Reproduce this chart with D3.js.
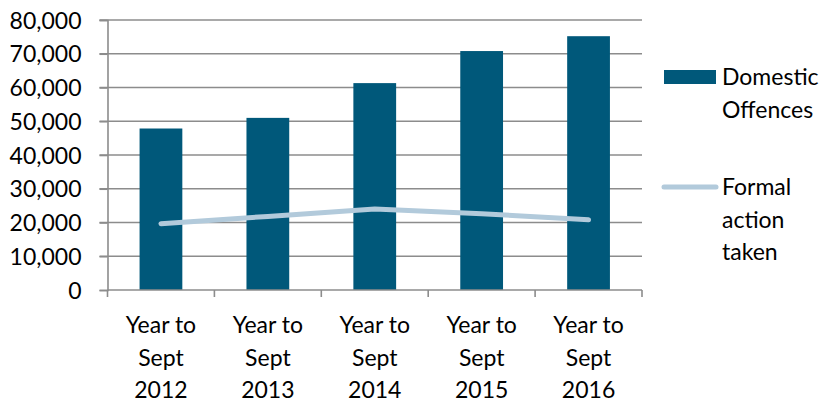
<!DOCTYPE html>
<html>
<head>
<meta charset="utf-8">
<script src="https://cdn.jsdelivr.net/npm/d3@7"></script>
<style>
  body { margin: 0; background: #fff; }
  svg text { font-family: Lato, "Noto Sans", sans-serif; fill: #000; }
</style>
</head>
<body>
<svg id="chart" width="833" height="402"></svg>
<script>
const categories = [
  ['Year to', 'Sept', '2012'],
  ['Year to', 'Sept', '2013'],
  ['Year to', 'Sept', '2014'],
  ['Year to', 'Sept', '2015'],
  ['Year to', 'Sept', '2016']
];
const domesticOffences = [47850, 51000, 61300, 70800, 75200];
const formalAction = [19650, 21800, 24000, 22600, 20800];
const yTicks = [0, 10000, 20000, 30000, 40000, 50000, 60000, 70000, 80000];
const legendLabels = [['Domestic', 'Offences'], ['Formal', 'action', 'taken']];

const svg = d3.select('#chart');
const plotLeft = 107.5, plotRight = 642, plotTop = 20, plotBottom = 290;
const barColor = '#00587a';
const lineColor = '#b2cadb';
const gridColor = '#8c8c8c';
const fontSize = 23;

const x = d3.scaleBand()
  .domain(d3.range(categories.length))
  .range([plotLeft, plotRight])
  .paddingInner(0.6)
  .paddingOuter(0.3);

const xb = d3.scaleBand()
  .domain(d3.range(categories.length))
  .range([plotLeft, plotRight]);

const y = d3.scaleLinear().domain([0, 80000]).range([plotBottom, plotTop]);

// gridlines
svg.append('g')
  .selectAll('line')
  .data(yTicks.slice(1))
  .join('line')
  .attr('x1', plotLeft - 8)
  .attr('x2', plotRight)
  .attr('y1', d => y(d))
  .attr('y2', d => y(d))
  .attr('stroke', gridColor)
  .attr('stroke-width', 1.6);

// y axis
const yAxis = svg.append('g')
  .attr('transform', `translate(${plotLeft},0)`)
  .call(d3.axisLeft(y).tickValues(yTicks).tickSize(8).tickPadding(18)
    .tickFormat(d3.format(',')));
yAxis.select('.domain').attr('stroke', gridColor).attr('stroke-width', 1.6);
yAxis.selectAll('.tick line').attr('stroke', gridColor).attr('stroke-width', 1.6);
yAxis.selectAll('.tick text')
  .attr('font-size', fontSize)
  .attr('dy', '0.35em')
  .style('font-family', 'Lato, sans-serif');

// bars
svg.append('g')
  .selectAll('rect')
  .data(domesticOffences)
  .join('rect')
  .attr('x', (d, i) => x(i))
  .attr('width', x.bandwidth())
  .attr('y', d => y(d))
  .attr('height', d => y(0) - y(d))
  .attr('fill', barColor);

// x axis
const xAxis = svg.append('g')
  .attr('transform', `translate(0,${plotBottom})`);
xAxis.append('line')
  .attr('x1', plotLeft).attr('x2', plotRight)
  .attr('stroke', gridColor).attr('stroke-width', 1.6);
xAxis.selectAll('.tk')
  .data(d3.range(categories.length + 1))
  .join('line')
  .attr('class', 'tk')
  .attr('x1', d => plotLeft + d * xb.step())
  .attr('x2', d => plotLeft + d * xb.step())
  .attr('y1', 0).attr('y2', 7)
  .attr('stroke', gridColor).attr('stroke-width', 1.6);

xAxis.selectAll('text')
  .data(categories)
  .join('text')
  .attr('text-anchor', 'middle')
  .attr('font-size', fontSize)
  .attr('transform', (d, i) => `translate(${xb(i) + xb.bandwidth() / 2},43)`)
  .selectAll('tspan')
  .data(d => d)
  .join('tspan')
  .attr('x', 0)
  .attr('y', (d, i) => i * 32.5)
  .text(d => d);

// line
const line = d3.line()
  .x((d, i) => x(i) + x.bandwidth() / 2)
  .y(d => y(d));
svg.append('path')
  .datum(formalAction)
  .attr('d', line)
  .attr('fill', 'none')
  .attr('stroke', lineColor)
  .attr('stroke-width', 5)
  .attr('stroke-linecap', 'round')
  .attr('stroke-linejoin', 'round');

// legend
const legend = svg.append('g');
legend.append('rect')
  .attr('x', 664).attr('y', 70)
  .attr('width', 52).attr('height', 14)
  .attr('fill', barColor);
legend.append('line')
  .attr('x1', 664).attr('x2', 716)
  .attr('y1', 187).attr('y2', 187)
  .attr('stroke', lineColor)
  .attr('stroke-width', 5)
  .attr('stroke-linecap', 'round');

const legendY = [85, 195];
legend.selectAll('text')
  .data(legendLabels)
  .join('text')
  .attr('font-size', fontSize)
  .attr('transform', (d, i) => `translate(722,${legendY[i]})`)
  .selectAll('tspan')
  .data(d => d)
  .join('tspan')
  .attr('x', 0)
  .attr('y', (d, i) => i * 32.5)
  .text(d => d);
</script>
</body>
</html>
